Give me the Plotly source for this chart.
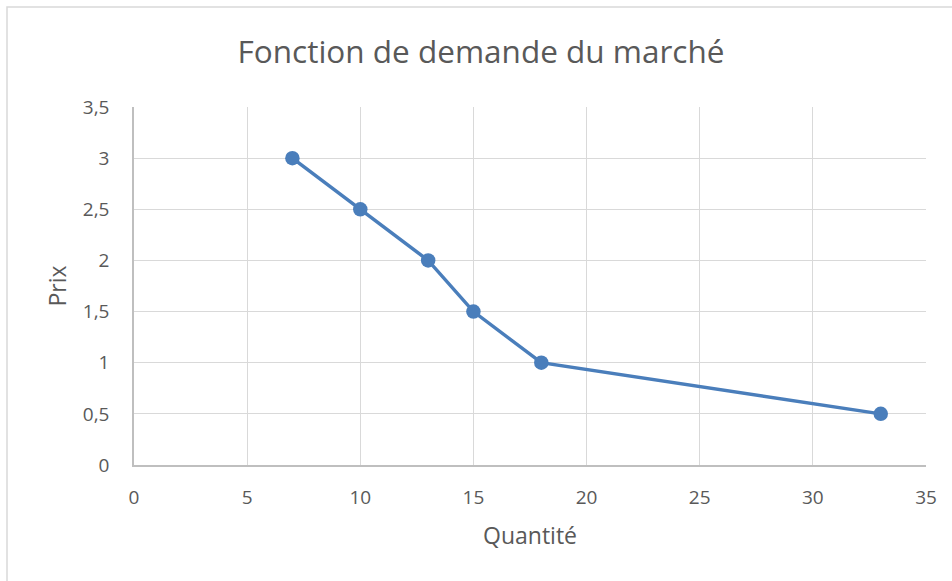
import plotly.graph_objects as go

quantite = [7, 10, 13, 15, 18, 33]
prix = [3, 2.5, 2, 1.5, 1, 0.5]
x_ticks = [0, 5, 10, 15, 20, 25, 30, 35]
y_ticks = [0, 0.5, 1, 1.5, 2, 2.5, 3, 3.5]
y_tick_labels = ["0", "0,5", "1", "1,5", "2", "2,5", "3", "3,5"]

W, H = 952, 581
L, R, T, B = 134, 26, 107, 116
pw, ph = W - L - R, H - T - B

font_family = "Open Sans, sans-serif"
txt = "#595959"
grid = "#d9d9d9"

fig = go.Figure()
fig.add_trace(go.Scatter(
    x=quantite, y=prix, mode="lines+markers",
    line=dict(color="#4a7ebb", width=3.5),
    marker=dict(color="#4a7ebb", size=14.5),
    showlegend=False, hoverinfo="x+y",
))

fig.update_layout(
    width=W, height=H,
    margin=dict(l=L, r=R, t=T, b=B, pad=0),
    paper_bgcolor="white", plot_bgcolor="white",
    font=dict(family=font_family, color=txt, size=19),
    title=dict(text="Fonction de demande du marché", font=dict(size=31.5, color=txt),
               xref="paper", x=(481 - L) / pw, xanchor="center",
               yref="container", y=1 - 52 / H, yanchor="middle"),
    xaxis=dict(range=[0, 35], tickmode="array", tickvals=x_ticks,
               ticktext=[str(v) for v in x_ticks],
               showgrid=True, gridcolor=grid, gridwidth=1,
               showline=True, linecolor="#bfbfbf", linewidth=1.5,
               zeroline=False, ticks="", ticklabelstandoff=14,
               title=dict(text="Quantité", font=dict(size=23, color=txt), standoff=19)),
    yaxis=dict(range=[0, 3.5], tickmode="array", tickvals=y_ticks,
               ticktext=y_tick_labels,
               showgrid=True, gridcolor=grid, gridwidth=1,
               showline=True, linecolor="#bfbfbf", linewidth=1.5,
               zeroline=False, ticks="", ticklabelstandoff=19,
               title=dict(text="Prix", font=dict(size=23, color=txt), standoff=10)),
)

fig.add_shape(type="rect", xref="paper", yref="paper",
              x0=(7 - L) / pw, x1=(W + 10 - L) / pw,
              y0=-(H + 20 - (H - B)) / ph, y1=1 + (T - 7) / ph,
              line=dict(color=grid, width=1.5), fillcolor="rgba(0,0,0,0)", layer="below")

fig.write_html("out.html", config={"displayModeBar": False},
               post_script="document.body.style.margin='0';document.body.style.padding='0';"
                           "document.body.style.overflow='hidden';")
